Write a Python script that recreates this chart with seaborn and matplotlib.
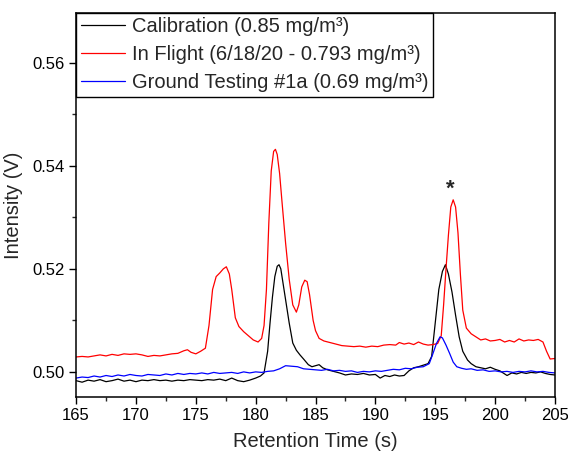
import numpy as np
import pandas as pd
import matplotlib
matplotlib.use("Agg")
import matplotlib.pyplot as plt
import seaborn as sns
from matplotlib.ticker import MultipleLocator

# ---------------- data ----------------
red_t = [165.0, 165.5, 166.0, 166.5, 167.0, 167.5, 168.0, 168.5, 169.0, 169.5, 170.0, 170.5,
         171.0, 171.5, 172.0, 172.5, 173.0, 173.5, 174.0, 174.3, 174.6, 175.0, 175.4, 175.8,
         176.1, 176.4, 176.7, 177.0, 177.3, 177.55, 177.8, 178.0, 178.3, 178.6, 179.0, 179.4,
         179.8, 180.2, 180.5, 180.7, 180.9, 181.1, 181.3, 181.5, 181.65, 181.8, 182.0, 182.2,
         182.5, 182.8, 183.1, 183.4, 183.6, 183.85, 184.1, 184.3, 184.5, 184.8, 185.0, 185.3,
         185.7, 186.2, 186.7, 187.2, 187.7, 188.2, 188.7, 189.2, 189.7, 190.2, 190.7, 191.2,
         191.7, 192.0, 192.4, 192.8, 193.2, 193.6, 194.0, 194.4, 194.8, 195.2, 195.5, 195.7,
         195.9, 196.1, 196.3, 196.5, 196.7, 196.9, 197.1, 197.3, 197.6, 198.0, 198.4, 198.8,
         199.2, 199.6, 200.0, 200.4, 200.8, 201.2, 201.6, 202.0, 202.4, 202.8, 203.2, 203.6,
         204.0, 204.3, 204.6, 205.0]
red_v = [0.5029, 0.5030, 0.5029, 0.5031, 0.5033, 0.5031, 0.5034, 0.5032, 0.5035, 0.5034, 0.5035, 0.5033,
         0.5030, 0.5032, 0.5031, 0.5033, 0.5035, 0.5036, 0.5041, 0.5043, 0.5038, 0.5035, 0.5040, 0.5046,
         0.5090, 0.5160, 0.5185, 0.5192, 0.5200, 0.5204, 0.5190, 0.5160, 0.5105, 0.5088, 0.5078, 0.5070,
         0.5062, 0.5058, 0.5065, 0.5090, 0.5160, 0.5290, 0.5390, 0.5428, 0.5432, 0.5422, 0.5385, 0.5330,
         0.5250, 0.5180, 0.5130, 0.5116, 0.5130, 0.5165, 0.5178, 0.5175, 0.5150, 0.5100, 0.5080, 0.5065,
         0.5060, 0.5057, 0.5054, 0.5051, 0.5050, 0.5049, 0.5050, 0.5048, 0.5050, 0.5049, 0.5052, 0.5053,
         0.5052, 0.5057, 0.5054, 0.5056, 0.5053, 0.5058, 0.5054, 0.5052, 0.5053, 0.5055, 0.5070, 0.5130,
         0.5200, 0.5265, 0.5320, 0.5334, 0.5320, 0.5270, 0.5190, 0.5120, 0.5085, 0.5074, 0.5068, 0.5062,
         0.5064, 0.5060, 0.5061, 0.5063, 0.5058, 0.5061, 0.5058, 0.5064, 0.5060, 0.5062, 0.5061, 0.5063,
         0.5058, 0.5040, 0.5025, 0.5026]

black_t = [165.0, 165.5, 166.0, 166.5, 167.0, 167.5, 168.0, 168.5, 169.0, 169.5, 170.0, 170.5,
           171.0, 171.5, 172.0, 172.5, 173.0, 173.5, 174.0, 174.5, 175.0, 175.5, 176.0, 176.5,
           177.0, 177.5, 178.0, 178.5, 179.0, 179.5, 180.0, 180.4, 180.7, 181.0, 181.2, 181.4,
           181.6, 181.8, 181.95, 182.1, 182.3, 182.5, 182.8, 183.1, 183.4, 183.7, 184.0, 184.4,
           184.7, 185.0, 185.3, 185.6, 186.0, 186.5, 187.0, 187.5, 188.0, 188.5, 189.0, 189.5,
           190.0, 190.4, 190.8, 191.2, 191.6, 192.0, 192.4, 192.8, 193.2, 193.6, 194.0, 194.4,
           194.7, 195.0, 195.3, 195.6, 195.85, 196.1, 196.4, 196.7, 197.0, 197.3, 197.7, 198.0,
           198.4, 198.8, 199.2, 199.6, 200.0, 200.4, 200.8, 201.0, 201.4, 201.8, 202.2, 202.6,
           203.0, 203.4, 203.8, 204.2, 204.6, 205.0]
black_v = [0.4983, 0.4980, 0.4984, 0.4982, 0.4985, 0.4981, 0.4983, 0.4986, 0.4982, 0.4984, 0.4981, 0.4984,
           0.4983, 0.4985, 0.4983, 0.4984, 0.4982, 0.4984, 0.4983, 0.4985, 0.4984, 0.4983, 0.4985, 0.4984,
           0.4986, 0.4983, 0.4988, 0.4983, 0.4981, 0.4984, 0.4988, 0.4992, 0.4998, 0.5040, 0.5095, 0.5145,
           0.5185, 0.5205, 0.5208, 0.5200, 0.5170, 0.5140, 0.5095, 0.5056, 0.5042, 0.5033, 0.5025, 0.5014,
           0.5010, 0.5012, 0.5014, 0.5008, 0.5004, 0.5001, 0.4998, 0.4994, 0.4996, 0.4995, 0.4997, 0.4994,
           0.4995, 0.4988, 0.4993, 0.4991, 0.4994, 0.4992, 0.4993, 0.5002, 0.5008, 0.5010, 0.5013, 0.5016,
           0.5030, 0.5095, 0.5160, 0.5195, 0.5208, 0.5190, 0.5155, 0.5110, 0.5068, 0.5040, 0.5023, 0.5016,
           0.5010, 0.5008, 0.5006, 0.5009, 0.5005, 0.5002, 0.4996, 0.4993, 0.4998, 0.4996, 0.4999, 0.4997,
           0.4999, 0.4998, 0.5000, 0.4997, 0.4995, 0.4994]

blue_t = [165.0, 165.5, 166.0, 166.5, 167.0, 167.5, 168.0, 168.5, 169.0, 169.5, 170.0, 170.5,
          171.0, 171.5, 172.0, 172.5, 173.0, 173.5, 174.0, 174.5, 175.0, 175.5, 176.0, 176.5,
          177.0, 177.5, 178.0, 178.5, 179.0, 179.5, 180.0, 180.5, 181.0, 181.5, 182.0, 182.5,
          183.0, 183.5, 184.0, 184.5, 185.0, 185.5, 186.0, 186.5, 187.0, 187.5, 188.0, 188.5,
          189.0, 189.5, 190.0, 190.5, 191.0, 191.5, 192.0, 192.5, 193.0, 193.5, 194.0, 194.5,
          194.8, 195.1, 195.4, 195.6, 195.9, 196.2, 196.5, 196.8, 197.2, 197.6, 198.0, 198.5,
          199.0, 199.5, 200.0, 200.5, 201.0, 201.5, 202.0, 202.5, 203.0, 203.5, 204.0, 204.5,
          205.0]
blue_v = [0.4988, 0.4990, 0.4989, 0.4992, 0.4990, 0.4993, 0.4991, 0.4994, 0.4992, 0.4995, 0.4993, 0.4992,
          0.4995, 0.4994, 0.4993, 0.4996, 0.4994, 0.4997, 0.4995, 0.4997, 0.4996, 0.4998, 0.4996, 0.4999,
          0.4997, 0.4998, 0.4999, 0.4997, 0.5000, 0.4998, 0.5000, 0.4999, 0.5001, 0.5002, 0.5006, 0.5012,
          0.5011, 0.5010, 0.5006, 0.5005, 0.5004, 0.5003, 0.5005, 0.5002, 0.5003, 0.5001, 0.5002, 0.4999,
          0.5001, 0.5000, 0.5002, 0.5001, 0.5003, 0.5005, 0.5004, 0.5007, 0.5006, 0.5009, 0.5010, 0.5016,
          0.5035, 0.5055, 0.5068, 0.5066, 0.5052, 0.5036, 0.5019, 0.5010, 0.5007, 0.5005, 0.5006, 0.5003,
          0.5004, 0.5001, 0.5002, 0.5000, 0.5001, 0.4999, 0.5001, 0.5000, 0.5002, 0.5000, 0.5001, 0.4999,
          0.4998]

series_names = ["Calibration (0.85 mg/m\u00b3)",
                "In Flight (6/18/20 - 0.793 mg/m\u00b3)",
                "Ground Testing #1a (0.69 mg/m\u00b3)"]
series_colors = ["#000000", "#ff0000", "#0000ff"]

x_ticks = [165, 170, 175, 180, 185, 190, 195, 200, 205]
y_ticks = [0.50, 0.52, 0.54, 0.56]
annot_label = "*"
annot_pos = (196.3, 0.5355)

df = pd.concat([
    pd.DataFrame({"t": black_t, "v": black_v, "series": series_names[0]}),
    pd.DataFrame({"t": red_t, "v": red_v, "series": series_names[1]}),
    pd.DataFrame({"t": blue_t, "v": blue_v, "series": series_names[2]}),
], ignore_index=True)

# ---------------- plot ----------------
sns.set_theme(style="ticks")
plt.rcParams["font.family"] = ["Liberation Sans", "DejaVu Sans"]

fig = plt.figure(figsize=(5.68, 4.57), dpi=100)
ax = fig.add_axes([0.134, 0.131, 0.843, 0.841])

sns.lineplot(data=df, x="t", y="v", hue="series", hue_order=series_names,
             palette=dict(zip(series_names, series_colors)), linewidth=0.9,
             sort=True, estimator=None, ax=ax)

ax.set_xlim(165, 205)
ax.set_ylim(0.4951, 0.5697)
ax.set_xticks(x_ticks)
ax.set_yticks(y_ticks)
ax.set_yticklabels([f"{v:.2f}" for v in y_ticks])
ax.xaxis.set_minor_locator(MultipleLocator(2.5))
ax.yaxis.set_minor_locator(MultipleLocator(0.01))
ax.tick_params(which="major", direction="out", length=5, width=1, labelsize=12,
               colors="black", pad=3)
ax.tick_params(which="minor", direction="out", length=3, width=1)
ax.tick_params(top=False, right=False)
for s in ax.spines.values():
    s.set_visible(True)
    s.set_linewidth(1.1)
    s.set_color("black")

ax.set_xlabel("Retention Time (s)", fontsize=14.5, labelpad=6)
ax.set_ylabel("Intensity (V)", fontsize=14.5, labelpad=7)

ax.text(annot_pos[0], annot_pos[1], annot_label, fontsize=16, fontweight="bold",
        ha="center", va="center")

leg = ax.legend(loc="upper left", bbox_to_anchor=(0, 1), borderaxespad=0,
                fontsize=14.5, frameon=True, fancybox=False, edgecolor="black",
                handlelength=2.2, handletextpad=0.35, borderpad=0.22, labelspacing=0.45)
leg.get_frame().set_linewidth(1.0)
leg.get_frame().set_alpha(1)

fig.savefig("out.png", dpi=100)
